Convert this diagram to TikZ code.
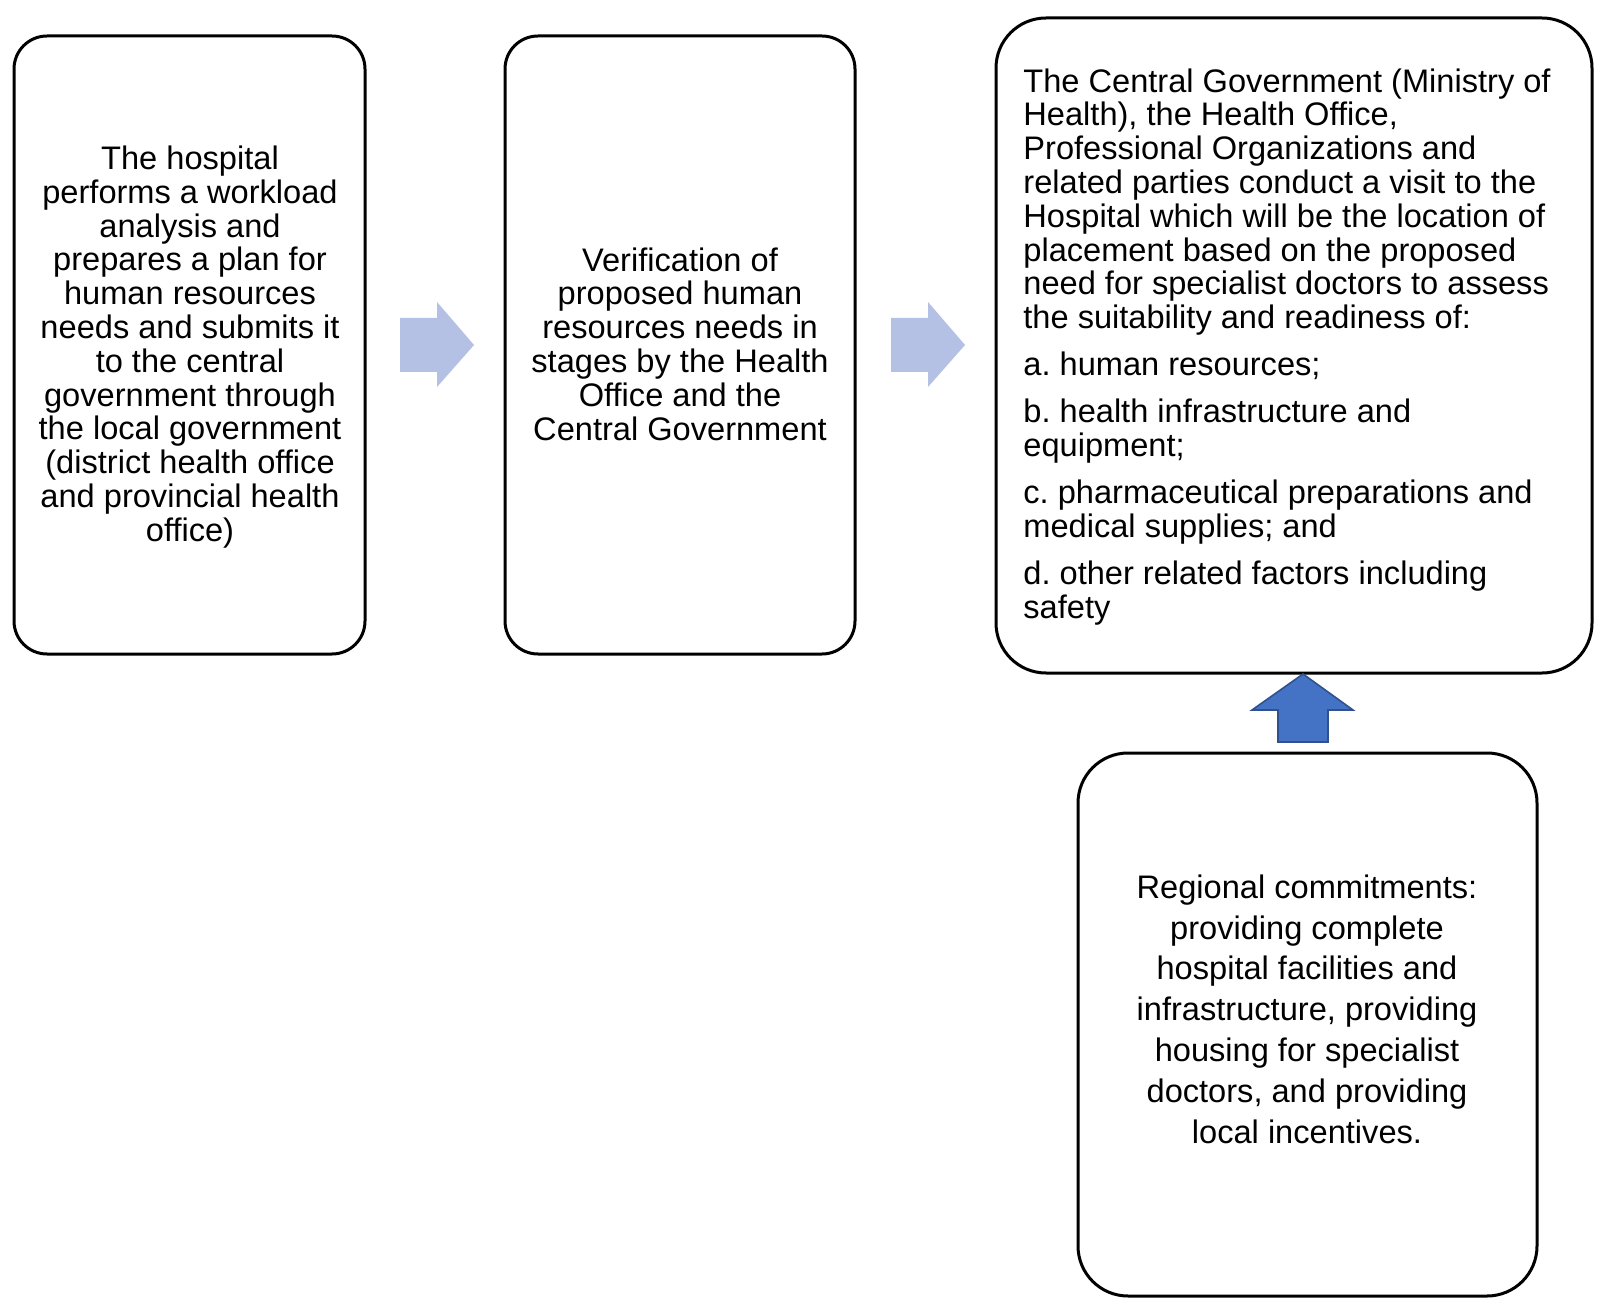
\documentclass[tikz,border=0pt]{standalone}
\usepackage{fontspec}
\setmainfont{Liberation Sans}
\frenchspacing
\begin{document}
\begin{tikzpicture}[x=0.5pt,y=-0.5pt,
  box/.style={draw=black,line width=1.5pt,fill=white},
  txt/.style={inner sep=0pt,font=\fontsize{16.3}{16.9}\selectfont},
  lightarrow/.style={fill=arrowlight,draw=none},
  darkarrow/.style={fill=arrowdark,draw=arrowedge,line width=0.8pt}]
\definecolor{arrowlight}{HTML}{B4C0E4}
\definecolor{arrowdark}{HTML}{4472C4}
\definecolor{arrowedge}{HTML}{2F528F}
\useasboundingbox[fill=white] (0,0) rectangle (1600,1304);
% boxes
\draw[box,rounded corners=16.5pt] (14,36) rectangle (365,654);
\draw[box,rounded corners=16.5pt] (505,36) rectangle (855,654);
\draw[box,rounded corners=25pt] (996,18) rectangle (1592,673);
\draw[box,rounded corners=25pt] (1078,753) rectangle (1537,1296);
% texts
\node[txt,align=center] (t1) at (190,347) {The hospital\\performs a workload\\analysis and\\prepares a plan for\\human resources\\needs and submits it\\to the central\\government through\\the local government\\(district health office\\and provincial health\\office)};
\node[txt,align=center] (t2) at (680,344) {Verification of\\proposed human\\resources needs in\\stages by the Health\\Office and the\\Central Government};
\node[txt,align=left,anchor=north west] (t3) at (1023,68) {The Central Government (Ministry of\\Health), the Health Office,\\Professional Organizations and\\related parties conduct a visit to the\\Hospital which will be the location of\\placement based on the proposed\\need for specialist doctors to assess\\the suitability and readiness of:\\[6.6pt]a. human resources;\\[6.6pt]b. health infrastructure and\\equipment;\\[6.6pt]c. pharmaceutical preparations and\\medical supplies; and\\[6.6pt]d. other related factors including\\safety};
\node[txt,align=center,font=\fontsize{16.3}{20.4}\selectfont] (t4) at (1307,1009) {Regional commitments:\\providing complete\\hospital facilities and\\infrastructure, providing\\housing for specialist\\doctors, and providing\\local incentives.};
% block arrows
\path[lightarrow] (400,318) -- (437,318) -- (437,302) -- (474,345) -- (437,387) -- (437,372) -- (400,372) -- cycle;
\path[lightarrow] (891,318) -- (928,318) -- (928,302) -- (965,345) -- (928,387) -- (928,372) -- (891,372) -- cycle;
\path[darkarrow] (1278,742) -- (1278,710) -- (1252,710) -- (1303,674) -- (1353,710) -- (1328,710) -- (1328,742) -- cycle;
\end{tikzpicture}
\end{document}
